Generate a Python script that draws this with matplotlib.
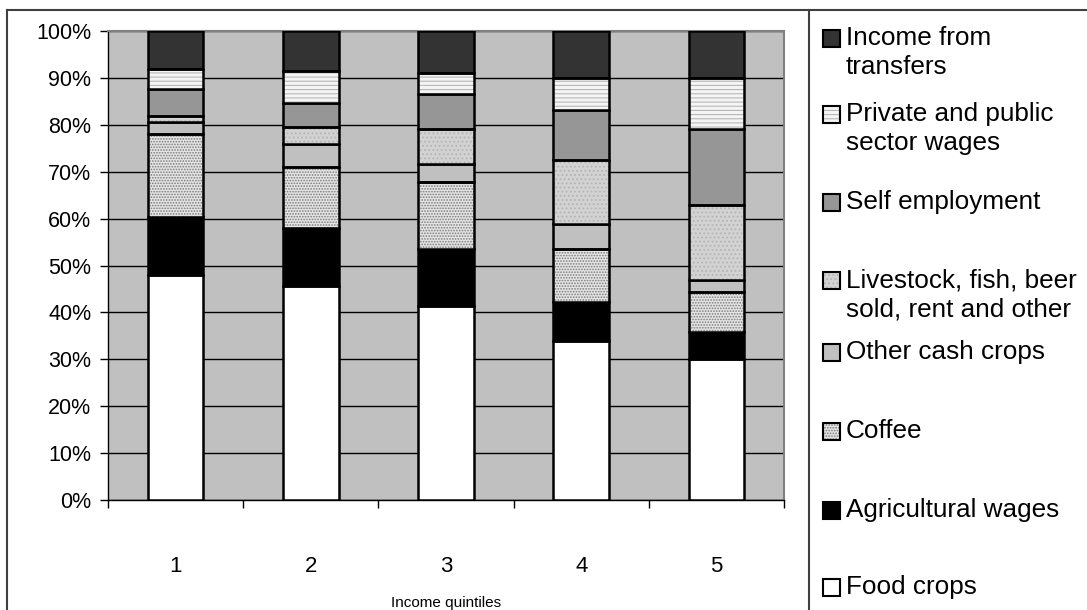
import matplotlib
matplotlib.use("Agg")
import matplotlib.pyplot as plt
from matplotlib.patches import Rectangle
from matplotlib.lines import Line2D
import numpy as np

plt.rcParams['font.family'] = ['Liberation Sans', 'DejaVu Sans']
plt.rcParams['hatch.linewidth'] = 0.8

categories = ["1", "2", "3", "4", "5"]
series_names = ["Food crops", "Agricultural wages", "Coffee", "Other cash crops",
                "Livestock, fish, beer\nsold, rent and other", "Self employment",
                "Private and public\nsector wages", "Income from\ntransfers"]
food_crops = [48.0, 45.6, 41.4, 33.9, 30.0]
agricultural_wages = [12.4, 12.3, 12.2, 8.3, 5.8]
coffee = [17.6, 13.2, 14.1, 11.3, 8.5]
other_cash_crops = [2.7, 4.8, 3.9, 5.3, 2.6]
livestock_other = [1.2, 3.6, 7.6, 13.6, 15.9]
self_employment = [5.7, 5.1, 7.4, 10.8, 16.3]
private_public_wages = [4.2, 6.9, 4.4, 6.7, 10.8]
transfers = [8.2, 8.5, 9.0, 10.1, 10.1]
yticklabels = ["0%", "10%", "20%", "30%", "40%", "50%", "60%", "70%", "80%", "90%", "100%"]

series = [food_crops, agricultural_wages, coffee, other_cash_crops,
          livestock_other, self_employment, private_public_wages, transfers]
# (facecolor, hatch, hatchcolor)
styles = [("#ffffff", None, None),
          ("#000000", None, None),
          ("#e4e4e4", "......", "#7a7a7a"),
          ("#c0c0c0", None, None),
          ("#d2d2d2", "....", "#b4b4b4"),
          ("#969696", None, None),
          ("#f4f4f4", "----", "#b8b8b8"),
          ("#333333", None, None)]

fig = plt.figure(figsize=(10.87, 6.10), dpi=100)
ax = fig.add_axes([108/1087, 1-500/610, (784-108)/1087, (500-31)/610])
ax.set_facecolor("#c0c0c0")

x = np.arange(1, len(categories) + 1)
width = 0.41
bottom = np.zeros(len(categories))
for vals, (fc, hatch, hc) in zip(series, styles):
    vals = np.array(vals)
    if hatch:
        ax.bar(x, vals, width, bottom=bottom, color=fc, edgecolor=hc, hatch=hatch,
               linewidth=0, zorder=3)
        ax.bar(x, vals, width, bottom=bottom, facecolor="none", edgecolor="black",
               linewidth=1.8, zorder=4)
    else:
        ax.bar(x, vals, width, bottom=bottom, color=fc, edgecolor="black",
               linewidth=1.8, zorder=3)
    bottom += vals

ax.set_xlim(0.5, len(categories) + 0.5)
ax.set_ylim(0, 100)
ax.set_yticks(np.arange(0, 101, 10))
ax.set_yticklabels(yticklabels, fontsize=15.5)
ax.yaxis.grid(True, color="black", linewidth=1.0, zorder=1)
ax.set_axisbelow(True)
ax.tick_params(axis='y', direction='out', length=6, width=1, pad=6)

ax.set_xticks(np.arange(0.5, len(categories) + 1, 1.0))
ax.set_xticklabels([])
ax.set_xticks(x, minor=True)
ax.set_xticklabels(categories, minor=True, fontsize=16)
ax.tick_params(axis='x', which='major', direction='out', length=6, width=1)
ax.tick_params(axis='x', which='minor', length=0, pad=40)

for s in ['top', 'right']:
    ax.spines[s].set_color("#808080")
    ax.spines[s].set_linewidth(1.5)
for s in ['left', 'bottom']:
    ax.spines[s].set_color("black")
    ax.spines[s].set_linewidth(1.0)

fig.text(446/1087, 1-603/610, "Income quintiles", ha='center', va='center', fontsize=11)

# frame lines
fig.add_artist(Line2D([7/1087, 7/1087], [0, 1-10/610], color="#404040", lw=1.5))
fig.add_artist(Line2D([7/1087, 1], [1-10/610, 1-10/610], color="#404040", lw=1.5))
fig.add_artist(Line2D([809/1087, 809/1087], [0, 1-10/610], color="#404040", lw=1.5))

# legend
legend_items = list(zip(series_names, styles, [587, 510, 431, 352, 280, 202, 114, 38]))
for name, (fc, hatch, hc), ypx in legend_items:
    yf = 1 - ypx/610
    sq = 17
    if hatch:
        fig.add_artist(Rectangle((823/1087, yf - sq/2/610), sq/1087, sq/610,
                                 facecolor=fc, edgecolor=hc, hatch=hatch, lw=0))
        fig.add_artist(Rectangle((823/1087, yf - sq/2/610), sq/1087, sq/610,
                                 facecolor="none", edgecolor="black", lw=1.5))
    else:
        fig.add_artist(Rectangle((823/1087, yf - sq/2/610), sq/1087, sq/610,
                                 facecolor=fc, edgecolor="black", lw=1.5))
    for i, line in enumerate(name.split("\n")):
        fig.text(846/1087, 1 - (ypx + 29*i)/610, line, ha='left', va='center',
                 fontsize=18.8)

fig.savefig("out.png", dpi=100)
